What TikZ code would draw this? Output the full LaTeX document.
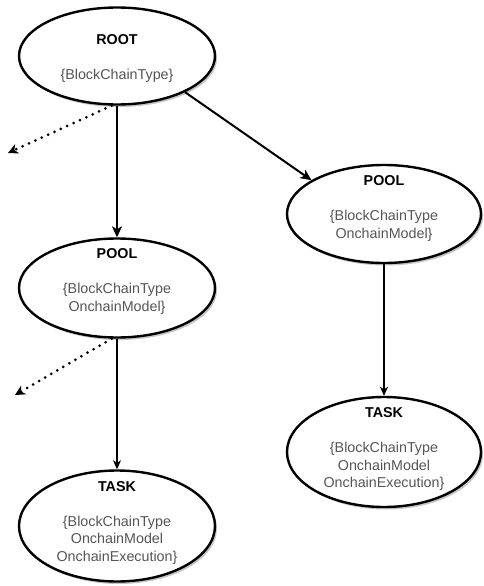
\documentclass[tikz,border=0pt]{standalone}
\usepackage{fontspec}
\setmainfont{Liberation Sans}
\usetikzlibrary{arrows.meta,shapes.geometric,shadows}
\definecolor{txtgray}{RGB}{85,85,85}
\begin{document}
\begin{tikzpicture}[x=1pt,y=-1pt,
 ebox/.style={ellipse,draw,line width=2.4pt,fill=white,inner sep=0pt,
   drop shadow={shadow xshift=2pt,shadow yshift=-2.5pt,opacity=0.45,fill=gray}},
 lbl/.style={align=center,font=\fontsize{14.3}{17.5}\selectfont,text=txtgray,inner sep=0pt},
 heavyarrow/.style={line width=2pt,-{Stealth[length=11pt,width=10pt,inset=3pt]}},
 lightarrow/.style={line width=1.1pt,-{Stealth[length=9pt,width=8pt,inset=2.5pt]}},
 dotarrow/.style={line width=3pt,dash pattern=on 0pt off 7pt,line cap=round,-{Stealth[length=10pt,width=10pt,inset=3pt]}},
]
\useasboundingbox[fill=white] (0,0) rectangle (483,586);

\node[ebox,minimum width=196pt,minimum height=97pt] (root) at (117,56) {};
\node[ebox,minimum width=196pt,minimum height=99pt] (pl) at (117,288) {};
\node[ebox,minimum width=194pt,minimum height=98pt] (pr) at (384,214) {};
\node[ebox,minimum width=194pt,minimum height=110pt] (tr) at (384,452) {};
\node[ebox,minimum width=196pt,minimum height=111pt] (tl) at (117,526) {};

\node[lbl] (rootT) at (117,58.5) {{\color{black}\bfseries ROOT}\\[17.5pt]\{BlockChainType\}};
\node[lbl] (plT) at (117,281.5) {{\color{black}\bfseries POOL}\\[17.5pt]\{BlockChainType\\OnchainModel\}};
\node[lbl] (prT) at (384,208.5) {{\color{black}\bfseries POOL}\\[17.5pt]\{BlockChainType\\OnchainModel\}};
\node[lbl] (trT) at (384,449) {{\color{black}\bfseries TASK}\\[17.5pt]\{BlockChainType\\OnchainModel\\OnchainExecution\}};
\node[lbl] (tlT) at (117,522.5) {{\color{black}\bfseries TASK}\\[17.5pt]\{BlockChainType\\OnchainModel\\OnchainExecution\}};

\draw[heavyarrow] (root) -- (pl);
\draw[heavyarrow] (root.-28) -- (pr.155);
\draw[lightarrow] (pr) -- (tr);
\draw[lightarrow] (pl) -- (tl);

\coordinate (d1) at (8,153);
\coordinate (d2) at (15,395);
\draw[dotarrow] (root.-96) -- (d1);
\draw[dotarrow] (pl.-96) -- (d2);
\end{tikzpicture}
\end{document}
